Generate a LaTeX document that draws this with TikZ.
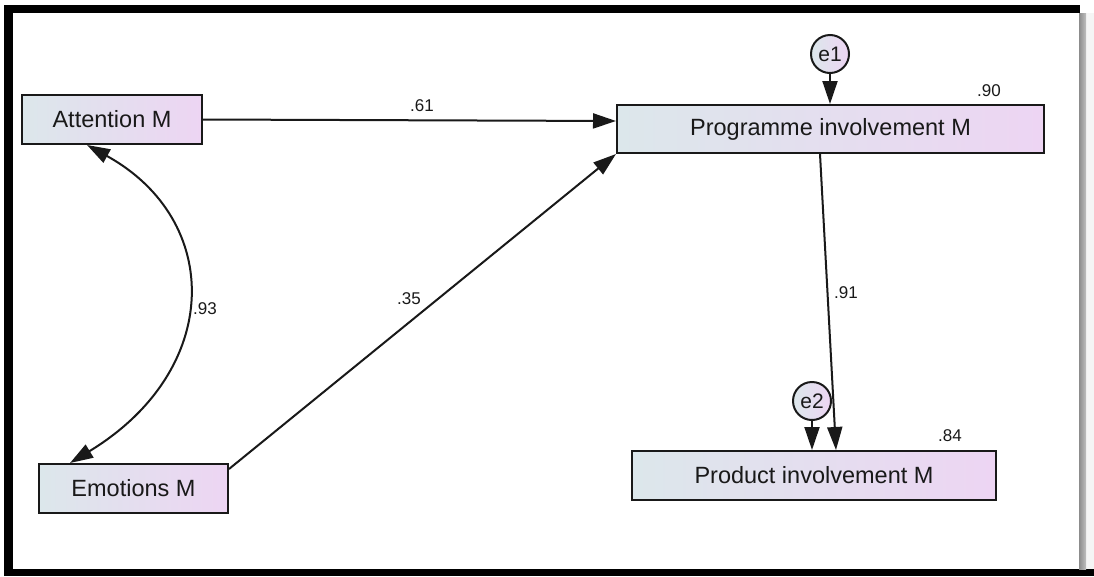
\documentclass[tikz,border=0pt]{standalone}
\usepackage{fontspec}
\setmainfont{Liberation Sans}
\usetikzlibrary{arrows.meta,calc}
\definecolor{boxleft}{RGB}{220,231,235}
\definecolor{boxright}{RGB}{237,213,243}
\definecolor{ink}{RGB}{25,25,25}
\tikzset{
  var/.style={draw=ink, line width=2pt, left color=boxleft, right color=boxright,
    minimum height=49pt, inner sep=0pt, text=ink,
    font=\fontsize{23.5}{28}\selectfont},
  err/.style={circle, draw=ink, line width=2pt, left color=boxleft, right color=boxright,
    minimum size=38pt, inner sep=0pt, text=ink, font=\fontsize{21}{24}\selectfont},
  path/.style={draw=ink, line width=2pt, -{Triangle[length=23pt,width=15pt]}},
  cov/.style={draw=ink, line width=2pt, {Triangle[length=23pt,width=15pt]}-{Triangle[length=23pt,width=15pt]}},
  coef/.style={text=ink, inner sep=0pt, font=\fontsize{17}{20}\selectfont}
}
\begin{document}
\begin{tikzpicture}[x=1pt,y=-1pt]
\useasboundingbox (0,0) rectangle (1094,576);
\fill[white] (0,0) rectangle (1094,576);
% frame
\fill[black] (4,5) rectangle (1080,13);
\fill[black] (4,5) rectangle (13,576);
\fill[black] (4,569) rectangle (1094,576);
\fill[black!4] (1086,13) rectangle (1094,569);
\shade[left color=black!45, right color=black!25] (1079,13) rectangle (1086,569);

% observed variables
\node[var, minimum width=180pt] (att) at (112,119.5) {Attention M};
\node[var, minimum width=189pt] (emo) at (133.5,488.5) {Emotions M};
\node[var, minimum width=427pt, minimum height=48pt] (prog) at (830.5,129) {Programme involvement M};
\node[var, minimum width=364pt] (prod) at (814,475.5) {Product involvement M};

% error terms
\node[err] (e1) at (830,54) {e1};
\node[err] (e2) at (812,401) {e2};

% regression paths
\draw[path] (att.east) -- ([yshift=8pt]prog.west);
\draw[path] ([yshift=-6pt]emo.north east) -- (prog.south west);
\draw[path] ([xshift=-10.5pt]prog.south) -- ([xshift=22pt]prod.north);
\draw[path] (e1.south) -- (e1 |- prog.north);
\draw[path] (e2.south) -- (e2 |- prod.north);

% covariance
\draw[cov] ([xshift=-25pt]att.south) .. controls (223,220) and (223,370) .. ([xshift=-63.5pt]emo.north);

% coefficients
\node[coef] (c61) at (422,106) {.61};
\node[coef] (c35) at (409,299) {.35};
\node[coef] (c93) at (205,309) {.93};
\node[coef] (c91) at (846,293) {.91};
\node[coef] (c90) at (989,91) {.90};
\node[coef] (c84) at (950,436) {.84};
\end{tikzpicture}
\end{document}
